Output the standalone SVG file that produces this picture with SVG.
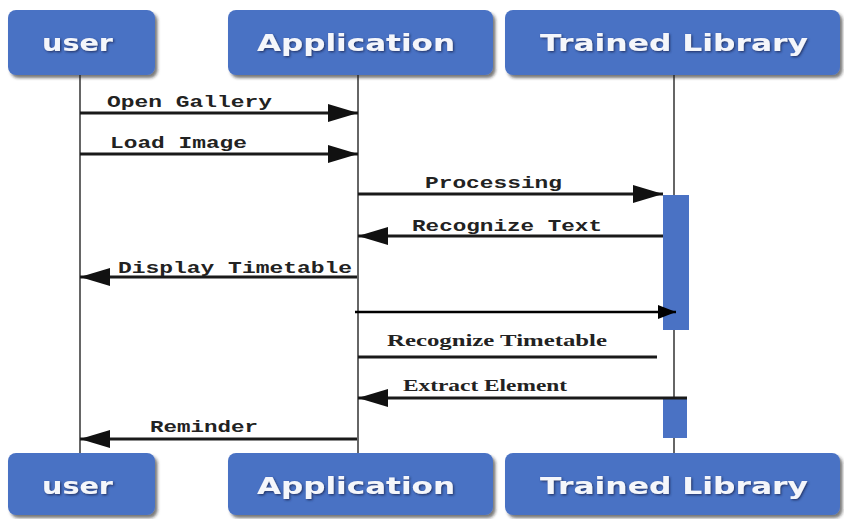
<svg xmlns="http://www.w3.org/2000/svg" width="844" height="519" viewBox="0 0 844 519">
<defs>
<filter id="sh" x="-10%" y="-10%" width="130%" height="140%">
<feDropShadow dx="2.5" dy="3" stdDeviation="1.5" flood-color="#222" flood-opacity="0.6"/>
</filter>
<filter id="tsh" x="-5%" y="-20%" width="110%" height="150%">
<feDropShadow dx="1.2" dy="1.2" stdDeviation="0.8" flood-color="#1a2f5e" flood-opacity="0.9"/>
</filter>
<marker id="big" markerUnits="userSpaceOnUse" markerWidth="30" markerHeight="20" refX="30" refY="10" orient="auto">
<path d="M0,1 L30,10 L0,19 z" fill="#111"/>
</marker>
<marker id="small" markerUnits="userSpaceOnUse" markerWidth="18" markerHeight="16" refX="18" refY="8" orient="auto">
<path d="M0,1 L18,8 L0,15 z" fill="#000"/>
</marker>
</defs>
<style>
.box{fill:#4a72c4;filter:url(#sh)}
.bt{font-family:"DejaVu Sans",Verdana,sans-serif;font-weight:bold;font-size:23px;fill:#f4f6fb;filter:url(#tsh)}
.life{stroke:#666;stroke-width:2;fill:none}
.bar{fill:#4a72c4}
.msg{stroke:#1a1a1a;stroke-width:3;fill:none}
.msg2{stroke:#000;stroke-width:2.5;fill:none}
.lm{font-family:"Liberation Mono","Courier New",monospace;font-weight:bold;font-size:17px;fill:#222}
.ls{font-family:"Liberation Serif","Times New Roman",serif;font-weight:bold;font-size:17px;fill:#222}
</style>
<rect width="844" height="519" fill="#fff"/>
<g id="lifelines">
<line class="life" x1="80" y1="75" x2="80" y2="455"/>
<line class="life" x1="358" y1="75" x2="358" y2="455"/>
<line class="life" x1="674" y1="75" x2="674" y2="455"/>
</g>
<g id="activations">
<rect class="bar" x="663" y="195" width="26" height="135"/>
<rect class="bar" x="663" y="398" width="24" height="40"/>
</g>
<g id="user-top"><rect class="box" x="8" y="10" width="147" height="65" rx="8"/><text class="bt" x="42" y="51" textLength="71" lengthAdjust="spacingAndGlyphs">user</text></g>
<g id="app-top"><rect class="box" x="228" y="10" width="265" height="65" rx="8"/><text class="bt" x="257" y="51" textLength="198" lengthAdjust="spacingAndGlyphs">Application</text></g>
<g id="lib-top"><rect class="box" x="505" y="10" width="335" height="65" rx="8"/><text class="bt" x="540" y="51" textLength="268" lengthAdjust="spacingAndGlyphs">Trained Library</text></g>
<g id="user-bottom"><rect class="box" x="8" y="453" width="147" height="62" rx="8"/><text class="bt" x="42" y="494" textLength="71" lengthAdjust="spacingAndGlyphs">user</text></g>
<g id="app-bottom"><rect class="box" x="228" y="453" width="265" height="62" rx="8"/><text class="bt" x="257" y="494" textLength="198" lengthAdjust="spacingAndGlyphs">Application</text></g>
<g id="lib-bottom"><rect class="box" x="505" y="453" width="335" height="62" rx="8"/><text class="bt" x="540" y="494" textLength="268" lengthAdjust="spacingAndGlyphs">Trained Library</text></g>
<g id="connectors">
<line class="msg" x1="80" y1="113" x2="358" y2="113" marker-end="url(#big)"/>
<line class="msg" x1="80" y1="154" x2="358" y2="154" marker-end="url(#big)"/>
<line class="msg" x1="358" y1="194" x2="663" y2="194" marker-end="url(#big)"/>
<line class="msg" x1="663" y1="236" x2="358" y2="236" marker-end="url(#big)"/>
<line class="msg" x1="357" y1="277" x2="80" y2="277" marker-end="url(#big)"/>
<line class="msg2" x1="355" y1="312" x2="676" y2="312" marker-end="url(#small)"/>
<line class="msg" x1="358" y1="357" x2="657" y2="357"/>
<line class="msg" x1="687" y1="398" x2="358" y2="398" marker-end="url(#big)"/>
<line class="msg" x1="357" y1="439" x2="80" y2="439" marker-end="url(#big)"/>
</g>
<g id="labels">
<text class="lm" x="107" y="107" textLength="165" lengthAdjust="spacingAndGlyphs">Open Gallery</text>
<text class="lm" x="110" y="148" textLength="137" lengthAdjust="spacingAndGlyphs">Load Image</text>
<text class="lm" x="425" y="188" textLength="137" lengthAdjust="spacingAndGlyphs">Processing</text>
<text class="lm" x="412" y="231" textLength="190" lengthAdjust="spacingAndGlyphs">Recognize Text</text>
<text class="lm" x="118" y="273" textLength="234" lengthAdjust="spacingAndGlyphs">Display Timetable</text>
<text class="ls" x="387" y="346" textLength="220" lengthAdjust="spacingAndGlyphs">Recognize Timetable</text>
<text class="ls" x="403" y="391" textLength="164" lengthAdjust="spacingAndGlyphs">Extract Element</text>
<text class="lm" x="150" y="432" textLength="108" lengthAdjust="spacingAndGlyphs">Reminder</text>
</g>
</svg>
